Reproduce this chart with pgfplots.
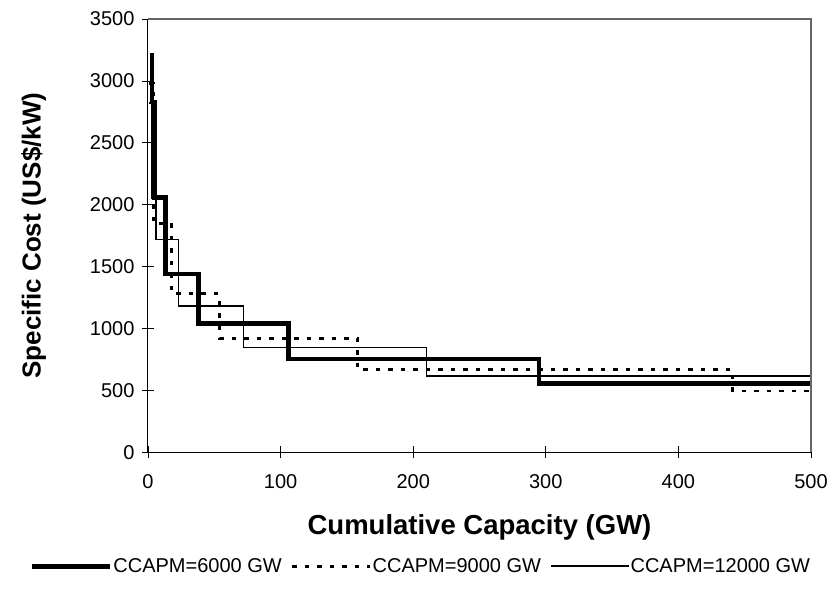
\documentclass[border=0pt]{standalone}
\usepackage{pgfplots}
\pgfplotsset{compat=1.18}
\usepackage{fontspec}
\setmainfont{Liberation Sans}

\begin{document}
\begin{tikzpicture}
\begin{axis}[
  scale only axis,
  width=663pt, height=433.3pt,
  xmin=0, xmax=500, ymin=0, ymax=3500,
  xtick={0,100,...,500}, ytick={0,500,...,3500},
  axis x line*=bottom, axis y line*=left,
  axis line style={black, line width=1pt},
  tick align=center, major tick length=12pt,
  tick style={black, line width=0.8pt},
  /pgf/number format/assume math mode=true,
  /pgf/number format/1000 sep={},
  tick label style={font=\fontsize{20}{22}\selectfont},
  xticklabel style={yshift=-13pt},
  yticklabel style={xshift=-4pt},
  xlabel={\textbf{Cumulative Capacity (GW)}},
  ylabel={\textbf{Specific Cost (US\$/kW)}},
  xlabel style={font=\fontsize{27.5}{30}\selectfont, yshift=-19pt},
  ylabel style={font=\fontsize{26}{28}\selectfont, yshift=37pt},
  legend columns=3,
  legend style={at={(axis description cs:0.411,-0.263)}, anchor=center,
    draw=none, font=\fontsize{20}{22}\selectfont,
    /tikz/every odd column/.append style={column sep=0pt},
    /tikz/every even column/.append style={column sep=8pt},
    nodes={inner sep=1pt},
    inner sep=0pt},
  legend image code/.code={\draw[#1] (0pt,0pt) -- (78pt,0pt);},
  clip=false,
]
% CCAPM = 6000 GW
\addplot[black, line width=4.6pt, line join=miter] coordinates {
  (1.5,3210) (3,3210) (3,2830) (5,2830) (5,2060) (13,2060) (13,1440)
  (38,1440) (38,1040) (106,1040) (106,755) (295,755) (295,555) (500,555)};
\addlegendentry{CCAPM=6000 GW}
% CCAPM = 9000 GW
\addplot[black, line width=2.8pt, dash pattern=on 4.5pt off 8pt] coordinates {
  (1,2980) (4,2980) (4,1850) (18,1850) (18,1280) (54,1280) (54,920)
  (158,920) (158,670) (441,670) (441,495) (500,495)};
\addlegendentry{CCAPM=9000 GW}
% CCAPM = 12000 GW
\addplot[black, line width=1.6pt] coordinates {
  (1,2820) (3,2820) (3,2050) (6,2050) (6,1720) (23,1720) (23,1180)
  (72,1180) (72,845) (210,845) (210,615) (500,615)};
\addlegendentry{CCAPM=12000 GW}
% plot area frame, top and right
\draw[gray!80!black, line width=1.4pt] (rel axis cs:0,1) -- (rel axis cs:1,1) -- (rel axis cs:1,0);
\end{axis}
\useasboundingbox (-148pt,-150.7pt) rectangle (684pt,452.3pt);
\end{tikzpicture}
\end{document}
